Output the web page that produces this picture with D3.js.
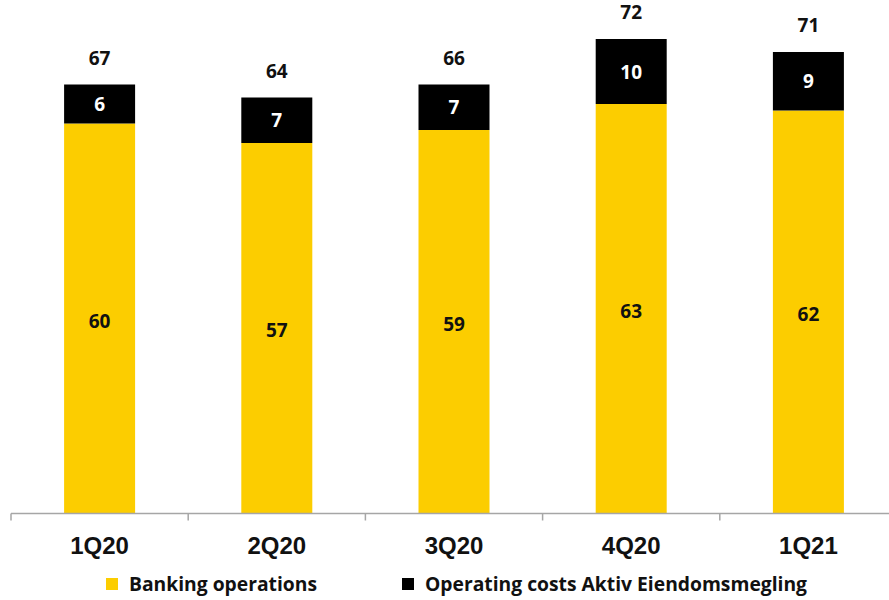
<!DOCTYPE html>
<html>
<head>
<meta charset="utf-8">
<script src="https://cdn.jsdelivr.net/npm/d3@7"></script>
<style>
  html, body { margin: 0; padding: 0; background: #fff; }
  svg { display: block; }
</style>
</head>
<body>
<svg id="chart" width="889" height="600"></svg>
<script>
// Quarterly operating costs (NOK million)
const quarters = ["1Q20", "2Q20", "3Q20", "4Q20", "1Q21"];
const banking = [60, 57, 59, 63, 62];
const aktiv = [6, 7, 7, 10, 9];
const totals = [67, 64, 66, 72, 71];
const seriesNames = ["Banking operations", "Operating costs Aktiv Eiendomsmegling"];

const colors = { banking: "#FCCD00", aktiv: "#000000", axis: "#A6A6A6" };

const svg = d3.select("#chart");
const baseY = 513.5;

const x = d3.scaleBand().domain(quarters).range([11, 897]).paddingInner(0).paddingOuter(0);
const y = d3.scaleLinear().domain([0, 79]).range([baseY, 0]);
const barW = 71;

const rows = quarters.map((q, i) => ({ q, banking: banking[i], aktiv: aktiv[i], total: totals[i] }));
const stack = d3.stack().keys(["banking", "aktiv"])(rows);

const g = svg.append("g");

stack.forEach(layer => {
  g.selectAll(null).data(layer).join("rect")
    .attr("x", d => x(d.data.q) + x.bandwidth() / 2 - barW / 2)
    .attr("y", d => y(d[1]))
    .attr("width", barW)
    .attr("height", d => y(d[0]) - y(d[1]))
    .attr("fill", colors[layer.key]);
});

// Segment value labels
const segFont = "'Open Sans', Lato, sans-serif";
stack.forEach(layer => {
  g.selectAll(null).data(layer).join("text")
    .attr("x", d => x(d.data.q) + x.bandwidth() / 2)
    .attr("y", d => (y(d[0]) + y(d[1])) / 2 + (layer.key === "banking" ? 2 : 0))
    .attr("text-anchor", "middle")
    .attr("dominant-baseline", "central")
    .attr("font-family", segFont)
    .attr("font-weight", "bold")
    .attr("font-size", 19)
    .attr("fill", layer.key === "aktiv" ? "#FFFFFF" : "#111111")
    .text(d => d.data[layer.key]);
});

// Totals above bars
g.selectAll(null).data(rows).join("text")
  .attr("x", d => x(d.q) + x.bandwidth() / 2)
  .attr("y", d => y(d.aktiv + d.banking) - 20)
  .attr("text-anchor", "middle")
  .attr("font-family", segFont)
  .attr("font-weight", "bold")
  .attr("font-size", 19)
  .attr("fill", "#111111")
  .text(d => d.total);

// Category axis
const axis = d3.axisBottom(x).tickSize(0).tickPadding(0);
const ax = svg.append("g").attr("transform", `translate(0,${baseY})`).call(axis);
ax.select(".domain").remove();
ax.append("line").attr("x1", 11).attr("x2", 889).attr("y1", 0).attr("y2", 0)
  .attr("stroke", colors.axis).attr("stroke-width", 1.5);
const edges = quarters.map(q => x(q)).concat([x(quarters[quarters.length - 1]) + x.bandwidth()]);
ax.selectAll(".edge").data(edges).join("line")
  .attr("class", "edge")
  .attr("x1", d => d).attr("x2", d => d)
  .attr("y1", 0).attr("y2", 7)
  .attr("stroke", colors.axis).attr("stroke-width", 1.5);
ax.selectAll(".tick text")
  .attr("y", 40)
  .attr("dy", 0)
  .attr("font-family", "'Liberation Sans', Arial, sans-serif")
  .attr("font-weight", "bold")
  .attr("font-size", 24)
  .attr("fill", "#111111");

// Legend
const legend = svg.append("g");
const items = [
  { name: seriesNames[0], color: colors.banking, x: 106 },
  { name: seriesNames[1], color: colors.aktiv, x: 402 }
];
items.forEach(it => {
  legend.append("rect").attr("x", it.x).attr("y", 578).attr("width", 12).attr("height", 12).attr("fill", it.color);
  legend.append("text").attr("x", it.x + 23).attr("y", 591)
    .attr("font-family", segFont)
    .attr("font-weight", "bold")
    .attr("font-size", 19.3)
    .attr("fill", "#111111")
    .text(it.name);
});
</script>
</body>
</html>
